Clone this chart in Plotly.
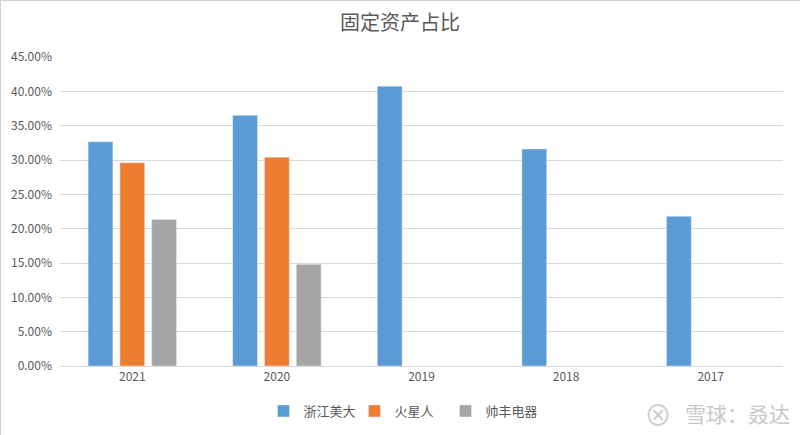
import plotly.graph_objects as go

years = ["2021", "2020", "2019", "2018", "2017"]
zj_meida = [0.3265, 0.365, 0.4075, 0.316, 0.218]
huoxingren = [0.296, 0.304, None, None, None]
shuaifeng = [0.2135, 0.148, None, None, None]
y_ticks = [0, 0.05, 0.10, 0.15, 0.20, 0.25, 0.30, 0.35, 0.40, 0.45]

font_main = "Noto Sans CJK SC, Microsoft YaHei, sans-serif"
txt = "#595959"

W, H = 800, 435
ml, mr, mt, mb = 60, 17, 57, 69
pw, ph = W - ml - mr, H - mt - mb


def px(x):
    return (x - ml) / pw


def py(y):
    return (H - mb - y) / ph


fig = go.Figure()
fig.add_trace(go.Bar(name="浙江美大", x=years, y=zj_meida, marker=dict(color="#5b9bd5")))
fig.add_trace(go.Bar(name="火星人", x=years, y=huoxingren, marker=dict(color="#ed7d31")))
fig.add_trace(go.Bar(name="帅丰电器", x=years, y=shuaifeng, marker=dict(color="#a5a5a5")))

fig.update_layout(
    width=W, height=H,
    paper_bgcolor="white", plot_bgcolor="white",
    margin=dict(l=ml, r=mr, t=mt, b=mb, autoexpand=False),
    barmode="group", bargap=0.34, bargroupgap=0.22,
    title=dict(text="固定资产占比", x=0.5, xanchor="center", y=0.948, yanchor="middle",
               font=dict(family=font_main, size=20, color=txt)),
    font=dict(family=font_main, size=12, color=txt),
    legend=dict(orientation="h", x=0.5, xanchor="center", xref="container",
                y=24 / H, yanchor="middle", yref="container",
                font=dict(size=13, color=txt), itemwidth=30, tracegroupgap=0,
                entrywidth=46, entrywidthmode="pixels"),
    xaxis=dict(showgrid=False, showline=True, linecolor="#d9d9d9", ticks="",
               tickfont=dict(size=12, color=txt)),
    yaxis=dict(range=[0, 0.45], tickvals=y_ticks, tickformat=".2%", showgrid=True,
               gridcolor="#d9d9d9", gridwidth=1, zeroline=False, showline=False,
               ticks="", tickfont=dict(size=12, color=txt), ticklabelstandoff=7),
    shapes=[
        dict(type="line", xref="paper", yref="paper", x0=px(0), x1=px(W), y0=py(0.5), y1=py(0.5),
             line=dict(color="#d0d0d0", width=1)),
        dict(type="line", xref="paper", yref="paper", x0=px(0.5), x1=px(0.5), y0=py(0), y1=py(H),
             line=dict(color="#d0d0d0", width=1)),
    ],
    annotations=[
        dict(text="雪球：叒达", xref="paper", yref="paper", x=px(792), y=py(413),
             xanchor="right", yanchor="middle", showarrow=False,
             font=dict(family=font_main, size=21, color="#c8c8c8")),
        dict(text="⊗", xref="paper", yref="paper", x=px(657.5), y=py(413.5),
             xanchor="center", yanchor="middle", showarrow=False,
             font=dict(family=font_main, size=28, color="#d0d0d0")),
    ],
)

fig.write_html("out.html", config={"displayModeBar": False},
               post_script="document.body.style.margin='0';")
